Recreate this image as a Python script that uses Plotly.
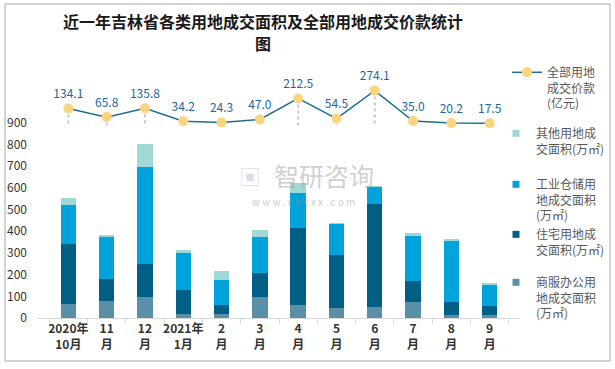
import plotly.graph_objects as go

# ---------------- data ----------------
months = ["2020年<br>10月", "11<br>月", "12<br>月", "2021年<br>1月", "2<br>月", "3<br>月",
          "4<br>月", "5<br>月", "6<br>月", "7<br>月", "8<br>月", "9<br>月"]
commercial = [63, 77, 95, 17, 17, 95, 58, 45, 49, 72, 12, 12]      # 商服办公用地
residential = [277, 101, 153, 111, 41, 111, 356, 244, 476, 97, 60, 42]  # 住宅用地
industrial = [180, 199, 447, 172, 116, 166, 164, 145, 80, 209, 286, 101]  # 工业仓储用地
other = [32, 5, 105, 12, 41, 33, 42, 3, 3, 13, 5, 5]               # 其他用地
price = [134.1, 65.8, 135.8, 34.2, 24.3, 47.0, 212.5, 54.5, 274.1, 35.0, 20.2, 17.5]  # 全部用地成交价款
y_ticks = [0, 100, 200, 300, 400, 500, 600, 700, 800, 900]

names = {
    "price": "全部用地<br>成交价款<br>(亿元)",
    "other": "其他用地成<br>交面积(万㎡)",
    "industrial": "工业仓储用<br>地成交面积<br>(万㎡)",
    "residential": "住宅用地成<br>交面积(万㎡)",
    "commercial": "商服办公用<br>地成交面积<br>(万㎡)",
}
colors = {
    "commercial": "#5B8FA8",
    "residential": "#005F85",
    "industrial": "#00A3DC",
    "other": "#A1D8D6",
}
LINE_COLOR = "#1F6E8C"
MARKER_COLOR = "#F9D57F"
FONT = "Noto Sans CJK SC"

# ---------------- geometry (pixel helpers) ----------------
W, H = 615, 369
L, R, T, B = 38, 520, 60, 318


def px(x):
    return (x - L) / (R - L)


def py(y):
    return (B - y) / (B - T)


fig = go.Figure()

series = [("commercial", commercial), ("residential", residential),
          ("industrial", industrial), ("other", other)]
for key, vals in series:
    fig.add_trace(go.Bar(x=months, y=vals, name=names[key], marker_color=colors[key],
                         marker_line_width=0, showlegend=False, yaxis="y"))

# drop lines (dotted) from markers down to zero of secondary axis
dx, dy = [], []
for m, v in zip(months, price):
    dx += [m, m, None]
    dy += [v, 0, None]
fig.add_trace(go.Scatter(x=dx, y=dy, mode="lines", yaxis="y2", showlegend=False,
                         line=dict(color="#C8C8C8", width=2, dash="dot"), hoverinfo="skip"))

fig.add_trace(go.Scatter(x=months, y=price, mode="lines+markers+text", yaxis="y2",
                         name=names["price"], legend="legend",
                         line=dict(color=LINE_COLOR, width=1.5),
                         marker=dict(color=MARKER_COLOR, size=10),
                         text=[f"{v:.1f}" for v in price], textposition="top center",
                         textfont=dict(color="#2166A0", size=12, family=FONT),
                         cliponaxis=False))

# legend-only proxies (small square swatches)
for i, key in enumerate(["other", "industrial", "residential", "commercial"]):
    fig.add_trace(go.Scatter(x=[None], y=[None], mode="markers", name=names[key],
                             legend=f"legend{i + 2}",
                             marker=dict(symbol="square", size=7, color=colors[key])))

legend_common = dict(bgcolor="rgba(0,0,0,0)", font=dict(size=12, color="#595959", family=FONT),
                     valign="top", xanchor="left", yanchor="top", itemwidth=30)
leg_tops = [58, 119, 170, 220, 268]
leg_x = [507, 496, 496, 496, 496]

layout_legends = {}
for i, (t, lx) in enumerate(zip(leg_tops, leg_x)):
    k = "legend" if i == 0 else f"legend{i + 1}"
    layout_legends[k] = dict(legend_common, x=px(lx), y=py(t))

# secondary axis range: 0 at y=125.5px, 7.85 units per px
y2_zero = 125.5
upp = 7.85
y2_range = [-(B - y2_zero) * upp, (y2_zero - T) * upp]
y_top = (B - T) / 0.217

fig.update_layout(
    width=W, height=H,
    margin=dict(l=L, r=W - R, t=T, b=H - B, autoexpand=False),
    paper_bgcolor="white", plot_bgcolor="white",
    barmode="stack", bargap=0.6,
    font=dict(family=FONT, color="#333333"),
    xaxis=dict(type="category", showline=True, linecolor="#D9D9D9", linewidth=1,
               ticks="outside", tickson="boundaries", ticklen=5, tickcolor="#D9D9D9",
               tickangle=0, automargin=False,
               tickfont=dict(size=12, color="#333333", family=FONT, weight="bold"),
               showgrid=False, zeroline=False),
    yaxis=dict(range=[0, y_top], tickvals=y_ticks, showgrid=False, zeroline=False,
               showline=False, tickfont=dict(size=12, color="#333333", family=FONT),
               ticklabelstandoff=10, automargin=False),
    yaxis2=dict(range=y2_range, overlaying="y", visible=False, showgrid=False, zeroline=False),
    showlegend=True,
    **layout_legends,
)

# title (two lines)
title_lines = ["近一年吉林省各类用地成交面积及全部用地成交价款统计", "图"]
for line, yy in zip(title_lines, [21, 43]):
    fig.add_annotation(text=line, x=px(263), y=py(yy), xref="paper", yref="paper",
                       xanchor="center", yanchor="middle", showarrow=False,
                       font=dict(size=16, color="#1A1A1A", family=FONT, weight="bold"))

# watermark
fig.add_annotation(text="智研咨询", x=px(324), y=py(175), xref="paper", yref="paper",
                   xanchor="center", yanchor="middle", showarrow=False,
                   font=dict(size=25, color="rgba(160,160,160,0.5)", family=FONT))
fig.add_annotation(text="▣", x=px(250), y=py(175), xref="paper", yref="paper",
                   xanchor="center", yanchor="middle", showarrow=False,
                   font=dict(size=22, color="rgba(140,160,200,0.35)", family=FONT))
fig.add_annotation(text="w w w . c h y x x . c o m", x=px(303), y=py(201), xref="paper", yref="paper",
                   xanchor="center", yanchor="middle", showarrow=False,
                   font=dict(size=10, color="rgba(150,150,150,0.5)", family=FONT))

# outer frame
fig.add_shape(type="rect", xref="paper", yref="paper",
              x0=px(5), x1=px(610), y0=py(361), y1=py(4),
              line=dict(color="#A6A6A6", width=1), fillcolor="rgba(0,0,0,0)")

fig.write_html("out.html", config={"displayModeBar": False},
               post_script="document.body.style.margin='0';")
